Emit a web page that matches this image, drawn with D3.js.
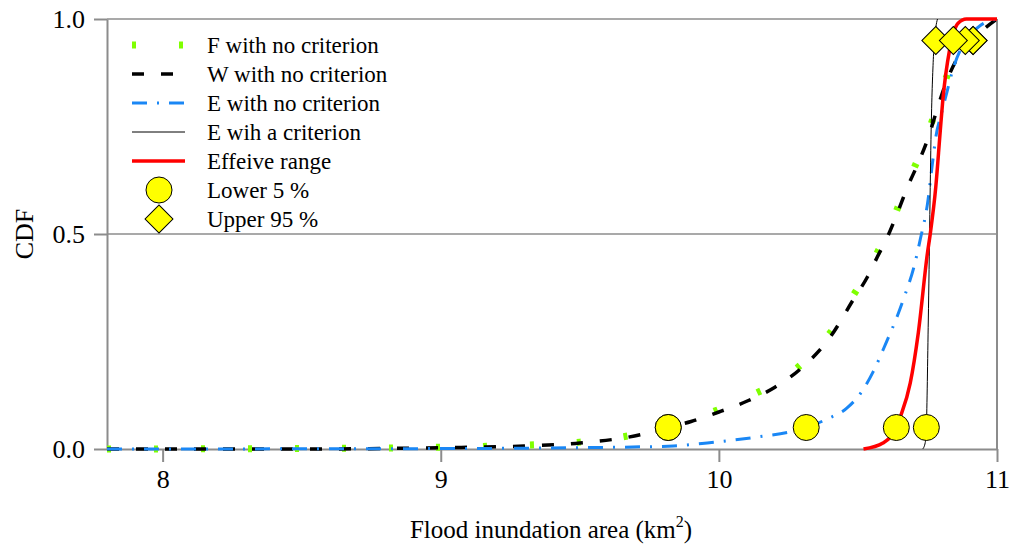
<!DOCTYPE html>
<html>
<head>
<meta charset="utf-8">
<script src="https://cdn.jsdelivr.net/npm/d3@7"></script>
<style>
  body { margin: 0; background: #fff; }
  svg, svg text { font-family: "Liberation Serif", "Times New Roman", Times, serif; }
</style>
</head>
<body>
<div id="chart"></div>
<script>
// series (x = flood inundation area in km2, y = CDF)
const fX = [7.8, 8.5, 9.0, 9.3, 9.5, 9.717, 9.818, 9.9, 10.0, 10.1, 10.2, 10.3, 10.4, 10.483, 10.534, 10.57, 10.606, 10.642, 10.678, 10.714, 10.75, 10.78, 10.81, 10.85, 10.91, 10.95, 11.0];
const fY = [0, 0.001, 0.004, 0.009, 0.016, 0.036, 0.053, 0.069, 0.092, 0.12, 0.152, 0.199, 0.27, 0.357, 0.41, 0.457, 0.503, 0.559, 0.619, 0.671, 0.729, 0.79, 0.85, 0.91, 0.955, 0.98, 1.0];

const wX = [7.8, 8.5, 9.0, 9.3, 9.5, 9.717, 9.818, 9.9, 10.0, 10.1, 10.2, 10.3, 10.4, 10.483, 10.534, 10.57, 10.606, 10.642, 10.678, 10.714, 10.75, 10.78, 10.81, 10.85, 10.91, 10.95, 11.0];
const wY = [0, 0, 0.003, 0.007, 0.014, 0.033, 0.05, 0.064, 0.086, 0.111, 0.143, 0.19, 0.26, 0.347, 0.40, 0.447, 0.493, 0.549, 0.609, 0.661, 0.719, 0.78, 0.84, 0.9, 0.95, 0.975, 1.0];

const eX = [7.8, 9.0, 9.5, 9.717, 9.836, 9.958, 10.138, 10.257, 10.314, 10.39, 10.46, 10.51, 10.555, 10.6, 10.642, 10.67, 10.7, 10.725, 10.75, 10.768, 10.78, 10.8, 10.82, 10.84, 10.87, 10.9, 10.94, 11.0];
const eY = [0, 0.001, 0.003, 0.005, 0.007, 0.014, 0.028, 0.04, 0.05, 0.07, 0.095, 0.13, 0.18, 0.245, 0.31, 0.36, 0.42, 0.49, 0.57, 0.665, 0.725, 0.78, 0.83, 0.88, 0.93, 0.96, 0.985, 1.0];

const cX = [10.733, 10.742, 10.746, 10.753, 10.764, 10.772, 10.78, 10.786];
const cY = [0, 0.015, 0.05, 0.3, 0.765, 0.92, 0.98, 1.0];

const rX = [10.52, 10.59, 10.638, 10.652, 10.688, 10.717, 10.75, 10.76, 10.78, 10.796, 10.805, 10.83, 10.86, 10.89, 11.0];
const rY = [0, 0.014, 0.05, 0.074, 0.153, 0.27, 0.456, 0.5, 0.61, 0.74, 0.81, 0.93, 0.99, 1.0, 1.0];

// 5 % and 95 % points, order F, W, E, E crit, effective
const lowerX = [9.818, 9.818, 10.314, 10.746, 10.638];
const upperX = [10.914, 10.914, 10.886, 10.78, 10.843];

const xTicks = [8, 9, 10, 11];
const yTicks = [0, 0.5, 1];
const legendNames = ["F with no criterion", "W with no criterion", "E with no criterion",
                     "E wih a criterion", "Effeive range", "Lower 5 %", "Upper 95 %"];

const W = 1013, H = 550;
const margin = {left: 107, top: 19, right: 16, bottom: 101};
const grey = "#8c8c8c";
const serif = '"Liberation Serif", "Times New Roman", Times, serif';

const svg = d3.select("#chart").append("svg")
    .attr("width", W)
    .attr("height", H)
    .attr("font-family", serif);

const x = d3.scaleLinear().domain([7.8, 11]).range([margin.left, W - margin.right]);
const y = d3.scaleLinear().domain([0, 1]).range([H - margin.bottom, margin.top]);

// grid lines and frame
svg.selectAll("line.grid")
    .data([0.5, 1])
    .enter().append("line")
    .attr("class", "grid")
    .attr("x1", x(7.8)).attr("x2", x(11))
    .attr("y1", d => y(d)).attr("y2", d => y(d))
    .attr("stroke", grey).attr("stroke-width", 1.5);

svg.append("line")
    .attr("x1", x(11)).attr("x2", x(11))
    .attr("y1", y(0)).attr("y2", y(1))
    .attr("stroke", grey).attr("stroke-width", 2);

// axes
const xAxis = svg.append("g")
    .attr("transform", `translate(0,${y(0)})`)
    .call(d3.axisBottom(x).tickValues(xTicks).tickFormat(d3.format("d")).tickSize(13).tickSizeOuter(0).tickPadding(8));

const yAxis = svg.append("g")
    .attr("transform", `translate(${margin.left},0)`)
    .call(d3.axisLeft(y).tickValues(yTicks).tickFormat(d3.format(".1f")).tickSize(13).tickSizeOuter(0).tickPadding(9));

[xAxis, yAxis].forEach(g => {
    g.attr("font-family", serif).attr("font-size", 26);
    g.select(".domain").attr("stroke", grey).attr("stroke-width", 2);
    g.selectAll(".tick line").attr("stroke", grey).attr("stroke-width", 2);
    g.selectAll(".tick text").attr("fill", "#000");
});

// axis titles
svg.append("text")
    .attr("transform", "translate(33,234) rotate(-90)")
    .attr("text-anchor", "middle")
    .attr("font-size", 26)
    .text("CDF");

const xt = svg.append("text")
    .attr("x", 551).attr("y", 538)
    .attr("text-anchor", "middle")
    .attr("font-size", 25);
xt.append("tspan").text("Flood inundation area (km");
xt.append("tspan").attr("dy", -11).attr("font-size", 16).text("2");
xt.append("tspan").attr("dy", 11).text(")");

// curves
const line = d3.line()
    .x(d => x(d[0]))
    .y(d => y(d[1]))
    .curve(d3.curveMonotoneX);

const series = [
    {xs: fX, ys: fY, color: "#7fff00", width: 7, dash: "4,43"},
    {xs: wX, ys: wY, color: "#000", width: 3.5, dash: "12,17"},
    {xs: eX, ys: eY, color: "#1a87f5", width: 3, dash: "15,10,2,10"},
    {xs: cX, ys: cY, color: "#000", width: 1, dash: null},
    {xs: rX, ys: rY, color: "#ff0000", width: 3.5, dash: null}
];

series.forEach(s => {
    svg.append("path")
        .datum(s.xs.map((v, i) => [v, s.ys[i]]))
        .attr("d", line)
        .attr("fill", "none")
        .attr("stroke", s.color)
        .attr("stroke-width", s.width)
        .attr("stroke-dasharray", s.dash);
});

// 5 % circles
svg.selectAll("circle.lower")
    .data(lowerX)
    .enter().append("circle")
    .attr("class", "lower")
    .attr("cx", d => x(d)).attr("cy", y(0.05))
    .attr("r", 13)
    .attr("fill", "#ffff00").attr("stroke", "#000").attr("stroke-width", 1);

// 95 % diamonds
const diamond = d3.symbol().type(d3.symbolSquare).size(390);
svg.selectAll("path.upper")
    .data(upperX)
    .enter().append("path")
    .attr("class", "upper")
    .attr("d", diamond)
    .attr("transform", d => `translate(${x(d)},${y(0.95)}) rotate(45)`)
    .attr("fill", "#ffff00").attr("stroke", "#000").attr("stroke-width", 1);

// legend
const legend = svg.append("g");
const rowY = i => 45 + i * 29;

legendNames.forEach((name, i) => {
    const ly = rowY(i);
    if (i < 5) {
        const s = series[i];
        legend.append("line")
            .attr("x1", 132).attr("x2", 185)
            .attr("y1", ly).attr("y2", ly)
            .attr("stroke", s.color)
            .attr("stroke-width", s.width)
            .attr("stroke-dasharray", s.dash);
    } else if (i == 5) {
        legend.append("circle")
            .attr("cx", 159).attr("cy", ly).attr("r", 13)
            .attr("fill", "#ffff00").attr("stroke", "#000");
    } else {
        legend.append("path")
            .attr("d", diamond)
            .attr("transform", `translate(159,${ly}) rotate(45)`)
            .attr("fill", "#ffff00").attr("stroke", "#000");
    }
    legend.append("text")
        .attr("x", 207).attr("y", ly)
        .attr("dy", "0.33em")
        .attr("font-size", 23)
        .text(name);
});
</script>
</body>
</html>
